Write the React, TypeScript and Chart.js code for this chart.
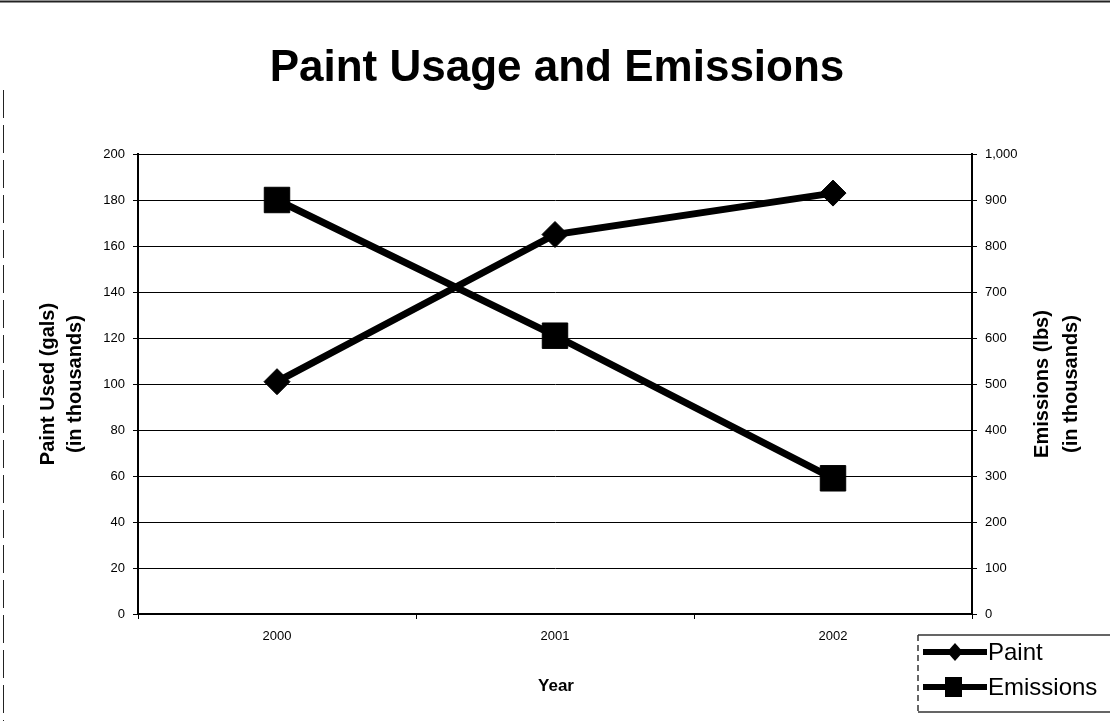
import React, { useEffect, useRef } from 'react';
import { Chart, registerables } from 'chart.js';

Chart.register(...registerables);

const years: string[] = ['2000', '2001', '2002'];
const paintUsed: number[] = [101, 165, 183];
const emissions: number[] = [900, 605, 295];
const chartTitle = 'Paint Usage and Emissions';
const leftTitle: string[] = ['Paint Used (gals)', '(in thousands)'];
const rightTitle: string[] = ['Emissions (lbs)', '(in thousands)'];
const xTitle = 'Year';
const legendLabels: string[] = ['Paint', 'Emissions'];

const FONT = 'Arial, "Liberation Sans", Helvetica, sans-serif';

const decorPlugin = {
  id: 'decor',
  afterDraw(chart: any) {
    const ctx: CanvasRenderingContext2D = chart.ctx;
    ctx.save();
    // page frame (scan edges)
    ctx.strokeStyle = '#222';
    ctx.lineWidth = 2;
    ctx.beginPath();
    ctx.moveTo(0, 1.5);
    ctx.lineTo(1110, 1.5);
    ctx.stroke();
    ctx.lineWidth = 1;
    ctx.setLineDash([28, 7]);
    ctx.beginPath();
    ctx.moveTo(3.5, 90);
    ctx.lineTo(3.5, 721);
    ctx.stroke();
    ctx.setLineDash([]);

    // main title
    ctx.fillStyle = '#000';
    ctx.font = `bold 44px ${FONT}`;
    ctx.textAlign = 'center';
    ctx.textBaseline = 'alphabetic';
    ctx.fillText(chartTitle, 557, 81);

    // axis titles
    const area = chart.chartArea;
    const cy = (area.top + area.bottom) / 2;
    ctx.font = `bold 20px ${FONT}`;
    ctx.textBaseline = 'middle';
    const drawRot = (text: string, x: number) => {
      ctx.save();
      ctx.translate(x, cy);
      ctx.rotate(-Math.PI / 2);
      ctx.fillText(text, 0, 0);
      ctx.restore();
    };
    drawRot(leftTitle[0], 48);
    drawRot(leftTitle[1], 75);
    drawRot(rightTitle[0], 1042);
    drawRot(rightTitle[1], 1071);

    ctx.font = `bold 17px ${FONT}`;
    ctx.fillText(xTitle, 556, 686);

    // legend
    const lx = 918;
    const ly = 635;
    ctx.strokeStyle = '#333';
    ctx.lineWidth = 1.5;
    ctx.beginPath();
    ctx.moveTo(1110, ly);
    ctx.lineTo(lx, ly);
    ctx.moveTo(lx, 712);
    ctx.lineTo(1110, 712);
    ctx.stroke();
    ctx.setLineDash([6, 4]);
    ctx.beginPath();
    ctx.moveTo(lx, ly);
    ctx.lineTo(lx, 712);
    ctx.stroke();
    ctx.setLineDash([]);

    const rows = [652, 687];
    ctx.fillStyle = '#000';
    ctx.strokeStyle = '#000';
    ctx.lineWidth = 6;
    rows.forEach((y, i) => {
      ctx.beginPath();
      ctx.moveTo(923, y);
      ctx.lineTo(987, y);
      ctx.stroke();
      ctx.beginPath();
      if (i === 0) {
        ctx.moveTo(955 - 8, y);
        ctx.lineTo(955, y - 9);
        ctx.lineTo(955 + 8, y);
        ctx.lineTo(955, y + 9);
        ctx.closePath();
      } else {
        ctx.rect(945, y - 10, 17, 20);
      }
      ctx.fill();
    });
    ctx.font = `24px ${FONT}`;
    ctx.textAlign = 'left';
    ctx.textBaseline = 'middle';
    legendLabels.forEach((t, i) => ctx.fillText(t, 988, rows[i] + 1));
    ctx.restore();
  },
};

export default function App() {
  const ref = useRef<HTMLCanvasElement | null>(null);

  useEffect(() => {
    document.body.style.margin = '0';
    document.body.style.overflow = 'hidden';
    const canvas = ref.current;
    if (!canvas) return;
    const tickFont = { family: FONT, size: 13 };
    const chart = new Chart(canvas, {
      type: 'line',
      data: {
        labels: years,
        datasets: [
          {
            label: legendLabels[0],
            data: paintUsed,
            yAxisID: 'y',
            borderColor: '#000',
            backgroundColor: '#000',
            borderWidth: 7,
            pointStyle: 'rectRot',
            pointRadius: 13,
            pointBackgroundColor: '#000',
            pointBorderColor: '#000',
            pointBorderWidth: 1,
            tension: 0,
          },
          {
            label: legendLabels[1],
            data: emissions,
            yAxisID: 'y1',
            borderColor: '#000',
            backgroundColor: '#000',
            borderWidth: 7,
            pointStyle: 'rect',
            pointRadius: 18,
            pointBackgroundColor: '#000',
            pointBorderColor: '#000',
            pointBorderWidth: 1,
            tension: 0,
          },
        ],
      },
      options: {
        responsive: false,
        animation: false,
        devicePixelRatio: 1,
        layout: { padding: { top: 154, left: 0, right: 0, bottom: 0 } },
        plugins: {
          legend: { display: false },
          title: { display: false },
          tooltip: { enabled: false },
        },
        scales: {
          x: {
            type: 'category',
            offset: true,
            grid: {
              display: true,
              drawOnChartArea: false,
              offset: true,
              tickLength: 5,
              color: '#000',
            },
            border: { display: true, color: '#000', width: 2 },
            ticks: { color: '#000', font: tickFont, padding: 10, maxRotation: 0 },
            afterFit: (s: any) => {
              s.height = 107;
            },
          },
          y: {
            position: 'left',
            min: 0,
            max: 200,
            ticks: { stepSize: 20, color: '#000', font: tickFont, padding: 8 },
            grid: { color: '#000', lineWidth: 1, tickLength: 5 },
            border: { display: true, color: '#000', width: 2 },
            afterFit: (s: any) => {
              s.width = 138;
            },
          },
          y1: {
            position: 'right',
            min: 0,
            max: 1000,
            ticks: {
              stepSize: 100,
              color: '#000',
              font: tickFont,
              padding: 8,
              callback: (v: any) => Number(v).toLocaleString('en-US'),
            },
            grid: { drawOnChartArea: false, color: '#000', tickLength: 5 },
            border: { display: true, color: '#000', width: 2 },
            afterFit: (s: any) => {
              s.width = 138;
            },
          },
        },
      },
      plugins: [decorPlugin],
    });
    return () => chart.destroy();
  }, []);

  return (
    <div style={{ position: 'fixed', left: 0, top: 0, width: 1110, height: 721, background: '#fff' }}>
      <canvas ref={ref} width={1110} height={721} />
    </div>
  );
}
